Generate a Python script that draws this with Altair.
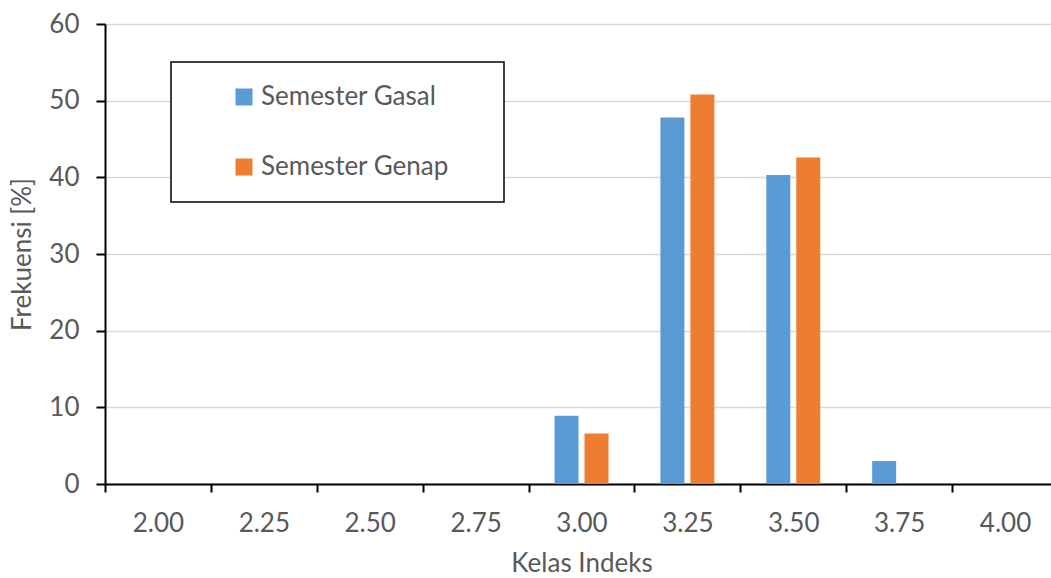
import altair as alt
import pandas as pd

# Index classes (x categories) and frequencies per semester, in percent
kelas = ["2.00", "2.25", "2.50", "2.75", "3.00", "3.25", "3.50", "3.75", "4.00"]
gasal = [0, 0, 0, 0, 8.9, 47.8, 40.3, 3.0, 0]
genap = [0, 0, 0, 0, 6.6, 50.8, 42.6, 0, 0]
series = ["Semester Gasal", "Semester Genap"]
colors = ["#5b9bd5", "#ed7d31"]

rows = []
for k, a, b in zip(kelas, gasal, genap):
    rows.append({"kelas": k, "semester": series[0], "frek": a})
    rows.append({"kelas": k, "semester": series[1], "frek": b})
df = pd.DataFrame(rows)

FONT = "Lato"
TXT = "#595959"
FS = 26

bars = alt.Chart(df).mark_bar().encode(
    x=alt.X(
        "kelas:N",
        sort=kelas,
        scale=alt.Scale(domain=kelas, range=[0, 953], paddingInner=0, paddingOuter=0),
        axis=alt.Axis(
            title="Kelas Indeks",
            labelAngle=0,
            tickBand="extent",
            tickSize=8,
            tickColor="black",
            tickWidth=2,
            domainColor="black",
            domainWidth=2,
            labelPadding=18,
            labelFontSize=FS,
            labelColor=TXT,
            labelFont=FONT,
            titleFont=FONT,
            titleFontSize=FS,
            titleFontWeight="normal",
            titleColor=TXT,
            titlePadding=14,
            grid=False,
        ),
    ),
    xOffset=alt.XOffset(
        "semester:N",
        scale=alt.Scale(domain=series, paddingInner=0.2, paddingOuter=0.865),
    ),
    y=alt.Y(
        "frek:Q",
        scale=alt.Scale(domain=[0, 60]),
        axis=alt.Axis(
            title="Frekuensi [%]",
            values=[0, 10, 20, 30, 40, 50, 60],
            tickSize=9,
            tickColor="black",
            tickWidth=2,
            domainColor="black",
            domainWidth=2,
            gridColor="#d9d9d9",
            gridWidth=1.5,
            labelPadding=17,
            labelFontSize=FS,
            labelColor=TXT,
            labelFont=FONT,
            titleFont=FONT,
            titleFontSize=FS,
            titleFontWeight="normal",
            titleColor=TXT,
            titleX=-83,
            titleBaseline="middle",
        ),
    ),
    color=alt.Color(
        "semester:N",
        scale=alt.Scale(domain=series, range=colors),
        legend=alt.Legend(
            title=None,
            orient="none",
            legendX=126,
            legendY=60,
            symbolType="square",
            symbolSize=289,
            symbolStrokeWidth=0,
            labelFont=FONT,
            labelFontSize=FS,
            labelColor=TXT,
            labelOffset=4,
            labelLimit=400,
            rowPadding=44,
            padding=0,
        ),
    ),
)

# Border drawn around the legend
legend_box = alt.Chart(pd.DataFrame({"a": [0]})).mark_rect(
    fill="white", stroke="black", strokeWidth=1.5
).encode(
    x=alt.value(66), x2=alt.value(399), y=alt.value(38), y2=alt.value(178)
)

chart = alt.layer(legend_box, bars).properties(
    width=946,
    height=460,
    autosize=alt.AutoSizeParams(type="none"),
    padding={"left": 105, "top": 24, "right": 0, "bottom": 94},
).configure_view(stroke=None)

chart.save("out.html", embed_options={"renderer": "svg", "actions": False})
